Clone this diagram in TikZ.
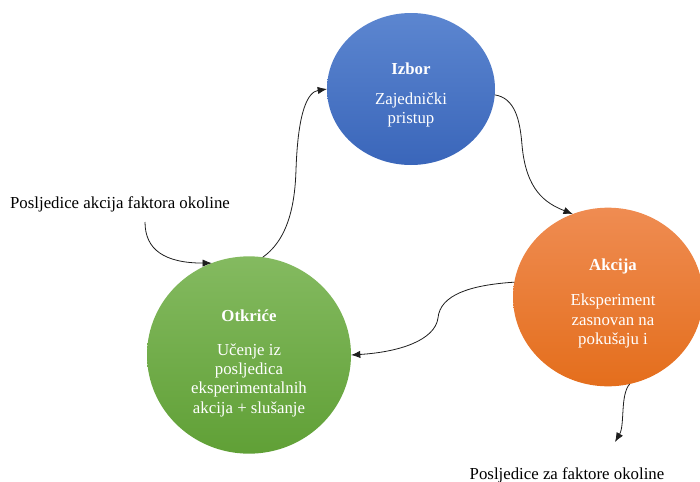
\documentclass[tikz,border=0pt]{standalone}
\usepackage{fontspec}
\setmainfont{Liberation Serif}
\usepackage{xcolor}
\usetikzlibrary{shapes.geometric,arrows.meta}
\definecolor{cBlueT}{RGB}{92,134,208}
\definecolor{cBlueB}{RGB}{58,102,186}
\definecolor{cOrngT}{RGB}{239,140,82}
\definecolor{cOrngB}{RGB}{228,110,28}
\definecolor{cGrnT}{RGB}{132,186,96}
\definecolor{cGrnB}{RGB}{96,160,54}
\definecolor{cLine}{RGB}{30,30,30}
\tikzset{
  bubble/.style={ellipse,draw=none,inner sep=0pt,outer sep=0pt},
  ttl/.style={text=white,font=\bfseries\fontsize{12.6}{14.5}\selectfont},
  bubtxt/.style={text=white,align=center,font=\fontsize{12.6}{14.5}\selectfont},
  lbl/.style={font=\fontsize{12.6}{14.5}\selectfont},
  flow/.style={cLine,line width=0.6pt,-{Latex[length=7pt,width=5.5pt]}}
}

\begin{document}
\begin{tikzpicture}[x=0.75pt,y=-0.75pt]
  \useasboundingbox (0,0) rectangle (700,482);
  % the three stages
  \node[bubble,top color=cBlueT,bottom color=cBlueB,minimum width=126pt,minimum height=114pt] (izbor) at (411,89) {};
  \node[bubble,top color=cOrngT,bottom color=cOrngB,minimum width=142.5pt,minimum height=134pt] (akcija) at (608,297) {};
  \node[bubble,top color=cGrnT,bottom color=cGrnB,minimum width=153pt,minimum height=148pt] (otkrice) at (249,355) {};
  % texts inside
  \node[ttl] (izborT) at (411,69) {Izbor};
  \node[bubtxt] (izborB) at (411,110) {Zajednički\\pristup};
  \node[ttl] (akcijaT) at (613,266) {Akcija};
  \node[bubtxt] (akcijaB) at (613,321) {Eksperiment\\zasnovan na\\pokušaju i};
  \node[ttl] (otkriceT) at (249,316) {Otkriće};
  \node[bubtxt] (otkriceB) at (249,380) {Učenje iz\\posljedica\\eksperimentalnih\\akcija + slušanje};
  % outside factors
  \node[lbl] (posA) at (120,204) {Posljedice akcija faktora okoline};
  \node[lbl] (posB) at (567,475) {Posljedice za faktore okoline};
  \coordinate (posAout) at (145,222);
  \coordinate (posBin) at (615,442);
  % the cycle
  \draw[flow] (posAout) .. controls (145,250) and (165,263) .. (otkrice.112);
  \draw[flow] (otkrice.82) .. controls (290,238) and (295,200) .. (296,170)
                           .. controls (298,110) and (308,92) .. (izbor.180);
  \draw[flow] (izbor.-4) .. controls (515,98) and (520,120) .. (522,145)
                         .. controls (526,190) and (545,203) .. (akcija.113);
  \draw[flow] (akcija.171) .. controls (470,285) and (440,295) .. (438,318)
                           .. controls (435,340) and (400,352) .. (otkrice.0);
  \draw[flow] (akcija.-76) .. controls (620,395) and (625,425) .. (posBin);
\end{tikzpicture}
\end{document}
